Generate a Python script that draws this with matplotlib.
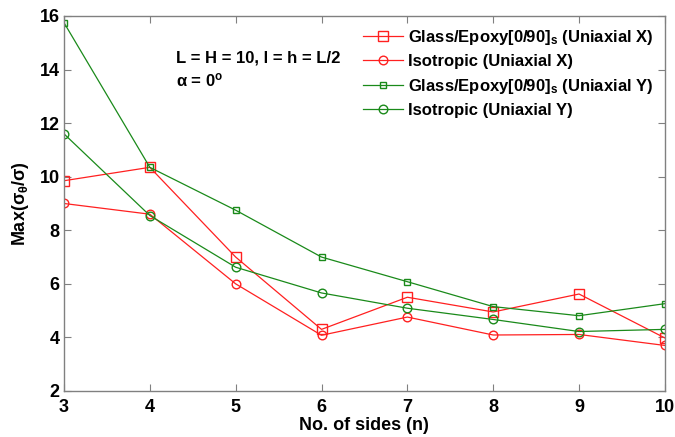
import matplotlib
matplotlib.use('Agg')
import matplotlib.pyplot as plt

# --- data ---
sides = [3, 4, 5, 6, 7, 8, 9, 10]
glass_x = [9.85, 10.35, 7.0, 4.3, 5.5, 4.95, 5.62, 3.98]
iso_x = [9.0, 8.6, 6.0, 4.08, 4.76, 4.09, 4.11, 3.7]
glass_y = [15.75, 10.35, 8.75, 7.0, 6.08, 5.15, 4.81, 5.26]
iso_y = [11.6, 8.55, 6.62, 5.66, 5.09, 4.67, 4.22, 4.3]

labels = [
    r'Glass/Epoxy[0/90]$_\mathregular{s}$ (Uniaxial X)',
    'Isotropic (Uniaxial X)',
    r'Glass/Epoxy[0/90]$_\mathregular{s}$ (Uniaxial Y)',
    'Isotropic (Uniaxial Y)',
]

plt.rcParams.update({
    'font.family': 'Liberation Sans', 'font.weight': 'bold',
    'mathtext.fontset': 'custom', 'mathtext.rm': 'Liberation Sans:bold',
    'mathtext.it': 'Liberation Sans:bold', 'mathtext.bf': 'Liberation Sans:bold',
    'xtick.direction': 'in', 'ytick.direction': 'in',
    'xtick.top': True, 'ytick.right': True,
    'xtick.major.size': 5, 'ytick.major.size': 5,
    'xtick.color': '#808080', 'ytick.color': '#808080',
    'xtick.labelcolor': 'black', 'ytick.labelcolor': 'black',
})

red = '#ff2020'
green = '#1a8a1a'

fig = plt.figure(figsize=(6.75, 4.37), dpi=100)
ax = fig.add_axes([0.0948, 0.1053, 0.8902, 0.8581])

ax.plot(sides, glass_x, color=red, lw=0.9, marker='s', ms=6.8, mfc='none', mew=1.0, label=labels[0])
ax.plot(sides, iso_x, color=red, lw=0.9, marker='o', ms=6.2, mfc='none', mew=1.0, label=labels[1])
ax.plot(sides, glass_y, color=green, lw=0.9, marker='s', ms=4.3, mfc='none', mew=1.0, label=labels[2])
ax.plot(sides, iso_y, color=green, lw=0.9, marker='o', ms=6.2, mfc='none', mew=1.0, label=labels[3])

ax.set_xlim(3, 10)
ax.set_ylim(2, 16)
ax.set_xticks(sides)
ax.set_yticks([2, 4, 6, 8, 10, 12, 14, 16])
ax.tick_params(axis='x', labelsize=13, pad=5.5)
ax.tick_params(axis='y', labelsize=13, pad=3)
for s in ax.spines.values():
    s.set_color('#808080')
    s.set_linewidth(1.0)

ax.set_xlabel('No. of sides (n)', fontsize=13, fontweight='bold', labelpad=1)
ax.set_ylabel(r'Max($\sigma_\theta/\sigma$)', fontsize=13, fontweight='bold', labelpad=6)

ax.text(4.3, 14.43, 'L = H = 10, l = h = L/2', fontsize=12, fontweight='bold', va='center')
ax.text(4.3, 13.61, r'$\alpha$ = 0$^\mathregular{o}$', fontsize=12, fontweight='bold', va='center')

ax.legend(loc='upper right', frameon=False, fontsize=12, handlelength=2.4,
          handletextpad=0.3, labelspacing=0.45, borderaxespad=0.3,
          bbox_to_anchor=(1.0, 1.0))

fig.savefig('out.png', dpi=100)
